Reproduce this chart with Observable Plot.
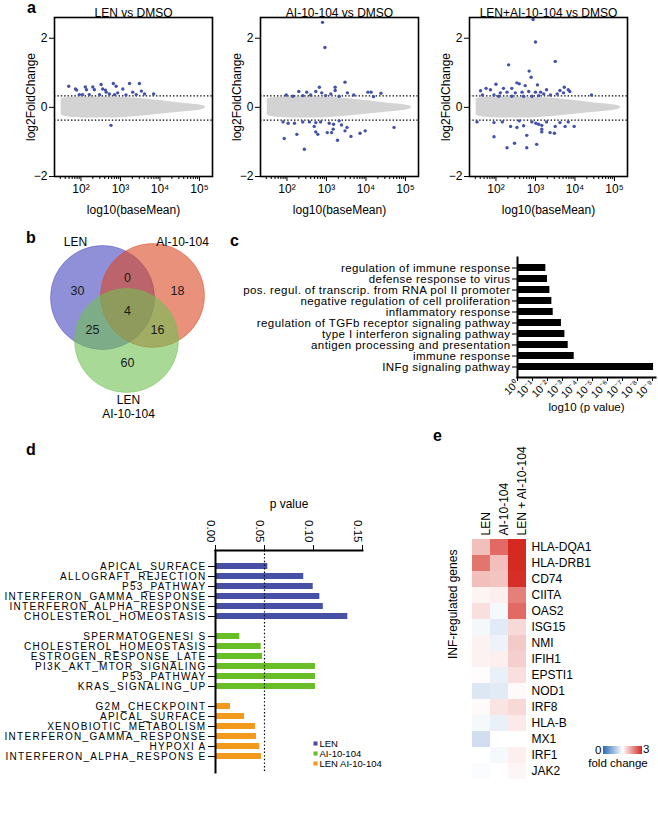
<!DOCTYPE html>
<html><head><meta charset="utf-8">
<script src="https://cdn.jsdelivr.net/npm/d3@7"></script>
<script src="https://cdn.jsdelivr.net/npm/@observablehq/plot@0.6"></script>
<style>
body{margin:0;background:#fff;}
#fig{position:relative;width:658px;height:817px;overflow:hidden;font-family:"Liberation Sans",Arial,Helvetica,sans-serif;color:#000;background:#fff;}
.abs{position:absolute;}
.letter{position:absolute;font-weight:bold;font-size:16px;line-height:1;}
.abs svg{display:block;}
.pd g[aria-label="y-axis tick label"] text{letter-spacing:1.3px;}
.pc g[aria-label="y-axis tick label"] text{letter-spacing:0.4px;}
</style></head><body><div id="fig"></div>
<script>
// ---------- Panel a data (log10 baseMean, log2FoldChange of significant genes) ----------
const maTitles = ["LEN vs DMSO", "AI-10-104 vs DMSO", "LEN+AI-10-104 vs DMSO"];
const thresholds = [0.33, -0.37];
const xMajorTicks = [1e2, 1e3, 1e4, 1e5];
const yTicksA = [-2, 0, 2];
// envelope of the grey cloud of non-significant genes
const cloudLogMean = [1.5, 1.8, 2.5, 3.0, 3.5, 4.0, 4.5, 5.0, 5.15];
const cloudUpper   = [0.25, 0.29, 0.30, 0.29, 0.26, 0.20, 0.13, 0.07, 0.02];
const cloudLower   = [-0.23, -0.29, -0.31, -0.30, -0.26, -0.20, -0.14, -0.08, -0.02];
const lenLog = [1.69,1.86,1.89,1.96,2.04,2.11,2.14,2.21,2.30,2.34,2.47,2.51,2.55,2.62,2.64,2.72,2.76,2.82,2.85,2.89,2.93,3.06,3.14,3.23,3.31,3.40,3.48,3.53,3.61,3.84];
const lenLfc = [0.61,0.53,0.50,0.37,0.37,0.59,0.51,0.37,0.59,0.51,0.37,0.66,0.53,0.50,0.44,0.39,-0.52,0.69,0.37,0.61,0.42,0.53,0.36,0.69,0.44,0.37,0.69,0.47,0.39,0.39];
const aiLog = [2.90,2.96,3.47,2.82,3.22,3.22,2.30,2.50,2.73,2.88,3.11,3.53,3.69,4.05,4.13,4.38,1.98,2.15,2.40,2.60,2.98,3.32,4.19,1.90,2.03,2.19,2.40,2.57,2.73,2.85,3.07,3.18,2.69,2.73,2.78,3.02,3.17,3.13,3.38,3.47,3.52,3.62,3.32,3.85,3.98,3.28,2.25,1.93,2.44,4.71];
const aiLfc = [2.46,1.73,0.73,0.58,0.58,0.49,0.46,0.44,0.46,0.42,0.39,0.42,0.36,0.44,0.44,0.41,0.36,0.32,0.34,0.36,0.34,0.32,0.31,-0.42,-0.46,-0.46,-0.42,-0.42,-0.44,-0.42,-0.46,-0.49,-0.55,-0.71,-0.78,-0.73,-0.63,-0.73,-0.51,-0.68,-0.58,-0.84,-0.39,-0.75,-0.68,-0.95,-0.78,-0.90,-1.21,-0.58];
const comboLog = [2.94,3.0,2.32,3.50,2.84,2.89,2.53,2.59,2.0,1.75,1.86,1.61,2.19,2.40,2.74,3.05,3.28,3.73,3.62,3.83,3.87,4.42,1.66,1.95,2.11,2.28,2.49,2.66,2.83,3.0,3.13,3.21,3.38,3.55,3.71,2.07,2.40,2.70,2.91,3.08,1.52,1.95,2.16,2.37,2.59,2.53,2.70,2.91,3.01,3.08,3.16,3.16,3.16,3.28,3.50,3.62,3.83,3.75,3.98,3.37,3.48,2.78,1.95,2.47,2.28,2.78,3.03];
const comboLfc = [2.54,1.89,1.23,1.33,1.05,0.87,0.71,0.68,0.67,0.55,0.51,0.48,0.55,0.55,0.63,0.65,0.51,0.58,0.49,0.51,0.46,0.36,0.36,0.36,0.42,0.44,0.42,0.44,0.46,0.44,0.44,0.39,0.36,0.39,0.42,0.32,0.32,0.32,0.32,0.34,-0.42,-0.44,-0.42,-0.55,-0.39,-0.58,-0.53,-0.42,-0.46,-0.49,-0.52,-0.63,-0.71,-0.42,-0.55,-0.44,-0.42,-0.55,-0.55,-0.73,-0.75,-0.81,-0.85,-1.04,-1.17,-1.17,-1.07];

// ---------- Panel b data ----------
const vennSets = ["LEN", "AI-10-104", "LEN AI-10-104"];
const vennColors = ["#4646c0", "#db4723", "#70bf52"];
// LEN only, LEN∩AI, AI only, all three, LEN∩combo, AI∩combo, combo only
const vennCounts = [30, 0, 18, 4, 25, 16, 60];

// ---------- Panel c data ----------
const goTerms = ["regulation of immune response","defense response to virus","pos. regul. of transcrip. from RNA pol II promoter","negative regulation of cell proliferation","inflammatory response","regulation of TGFb receptor signaling pathway","type I interferon signaling pathway","antigen processing and presentation","immune response","INFg signaling pathway"];
const goNegLog10P = [1.89, 2.0, 2.16, 2.29, 2.38, 2.93, 3.16, 3.38, 3.78, 9.07];
const goTicks = [0,1,2,3,4,5,6,7,8,9];

// ---------- Panel d data ----------
const hallGroups = ["LEN", "AI-10-104", "LEN AI-10-104"];
const hallColors = ["#4651a6", "#69be28", "#f39a1e"];
const lenTerms = ["APICAL_SURFACE","ALLOGRAFT_REJECTION","P53_PATHWAY","INTERFERON_GAMMA_RESPONSE","INTERFERON_ALPHA_RESPONSE","CHOLESTEROL_HOMEOSTASIS"];
const lenP = [0.0534, 0.090, 0.0997, 0.1065, 0.110, 0.135];
const aiTerms = ["SPERMATOGENESI S","CHOLESTEROL_HOMEOSTASIS","ESTROGEN_RESPONSE_LATE","PI3K_AKT_MTOR_SIGNALING","P53_PATHWAY","KRAS_SIGNALING_UP"];
const aiP = [0.0248, 0.0466, 0.048, 0.102, 0.102, 0.102];
const comboTerms = ["G2M_CHECKPOINT","APICAL_SURFACE","XENOBIOTIC_METABOLISM","INTERFERON_GAMMA_RESPONSE","HYPOXI A","INTERFERON_ALPHA_RESPONS E"];
const comboP = [0.0153, 0.0296, 0.0408, 0.0418, 0.0452, 0.0469];
const pTicks = [0, 0.05, 0.10, 0.15];
const pCutoff = [0.05];

// ---------- Panel e data ----------
const genes = ["HLA-DQA1","HLA-DRB1","CD74","CIITA","OAS2","ISG15","NMI","IFIH1","EPSTI1","NOD1","IRF8","HLA-B","MX1","IRF1","JAK2"];
const conditions = ["LEN", "AI-10-104", "LEN + AI-10-104"];
const fcLEN   = [1.6, 2.3, 1.6, 1.1, 1.3, 0.95, 1.12, 1.12, 1.03, 0.84, 1.05, 0.96, 0.78, 1.0, 0.98];
const fcAI    = [2.4, 1.6, 1.55, 1.15, 0.96, 0.86, 0.92, 1.15, 0.9, 0.86, 1.25, 0.9, 1.0, 0.96, 1.0];
const fcCombo = [3.0, 3.0, 2.95, 2.2, 2.4, 1.35, 1.5, 1.45, 1.3, 1.05, 1.35, 1.2, 1.0, 1.15, 1.08];
const fcLegendTicks = [0, 3];

// ================= drawing =================
const FONT = '"Liberation Sans", Arial, Helvetica, sans-serif';
const fig = document.getElementById("fig");
const sup = {"0":"⁰","1":"¹","2":"²","3":"³","4":"⁴","5":"⁵","6":"⁶","7":"⁷","8":"⁸","9":"⁹","-":"⁻"};
const pow10 = e => "10" + String(e).split("").map(c => sup[c]).join("");
function place(node, left, top) {
  const d = document.createElement("div");
  d.className = "abs"; d.style.left = left + "px"; d.style.top = top + "px";
  d.appendChild(node); fig.appendChild(d); return d;
}
function letter(t, left, top) {
  const d = document.createElement("div");
  d.className = "letter"; d.textContent = t; d.style.left = left + "px"; d.style.top = top + "px";
  fig.appendChild(d);
}
const baseStyle = {fontFamily: FONT, fontSize: "12px", background: "transparent", overflow: "visible", color: "#000"};

// ---- panel a ----
const maSeries = [[lenLog, lenLfc], [aiLog, aiLfc], [comboLog, comboLfc]];
const maFrameLeft = [54, 260, 469];
const minorTicks = xMajorTicks.flatMap(t => [2,3,4,5,6,7,8,9].map(k => k * t / 10)).filter(v => v >= 30);
const cloud = cloudLogMean.map((m, i) => ({m: 10 ** m, lo: cloudLower[i], hi: cloudUpper[i]}));
maSeries.forEach(([lg, lf], j) => {
  const mL = 50, mR = 6, mT = 17, mB = 42, w = 158, h = 159;
  const pts = lg.map((m, i) => ({m: 10 ** m, v: lf[i]}));
  const p = Plot.plot({
    width: mL + w + mR, height: mT + h + mB,
    marginLeft: mL, marginRight: mR, marginTop: mT, marginBottom: mB,
    style: baseStyle,
    x: {type: "log", domain: [10 ** 1.33, 10 ** 5.33]},
    y: {domain: [-2, 2.6]},
    marks: [
      Plot.areaY(cloud, {x: "m", y1: "lo", y2: "hi", fill: "#d3d3d3", curve: "natural"}),
      Plot.ruleY(thresholds, {stroke: "#000", strokeDasharray: "1.4,2", strokeWidth: 1.3}),
      Plot.dot(pts, {x: "m", y: "v", r: 1.7, fill: "#4351a8"}),
      Plot.frame({stroke: "#000", strokeWidth: 1.6}),
      Plot.axisX(minorTicks, {tickSize: 3, tickFormat: () => "", label: null}),
      Plot.axisX(xMajorTicks, {tickSize: 5, tickPadding: 3, fontSize: 12, tickFormat: d => pow10(Math.round(Math.log10(d))), label: "log10(baseMean)", labelAnchor: "center", labelArrow: "none", labelOffset: 37}),
      Plot.axisY(yTicksA, {tickSize: 5, tickPadding: 2, fontSize: 12, label: "log2FoldChange", labelAnchor: "center", labelArrow: "none", labelOffset: 28}),
      Plot.text([maTitles[j]], {frameAnchor: "top", dy: -9, fontSize: 12})
    ]
  });
  place(p, maFrameLeft[j] - mL, 0);
});

// ---- panel b (Venn) ----
const vennCircles = [ {x: -25, y: -23}, {x: 25, y: -25}, {x: -1, y: 20} ];
const vennCountPos = [ {x: -50, y: -30}, {x: 0, y: -43}, {x: 50, y: -30}, {x: 0, y: -10}, {x: -35, y: 9}, {x: 30, y: 9}, {x: 0, y: 42} ];
const vennLabelPos = [ {x: -52, y: -78, t: vennSets[0]}, {x: 55, y: -78, t: vennSets[1]}, {x: 1, y: 80, t: "LEN"}, {x: 1, y: 94, t: "AI-10-104"} ];
const venn = Plot.plot({
  width: 230, height: 210, margin: 0,
  style: baseStyle,
  x: {domain: [-115, 115], axis: null},
  y: {domain: [110, -100], axis: null},
  color: {domain: vennSets, range: vennColors},
  marks: [
    Plot.dot(vennCircles.map((c, i) => ({...c, s: vennSets[i]})), {x: "x", y: "y", r: 52, fill: "s", fillOpacity: 0.6, stroke: "s", strokeOpacity: 0.45, strokeWidth: 1}),
    Plot.text(vennCountPos.map((c, i) => ({...c, n: vennCounts[i]})), {x: "x", y: "y", text: "n", fontSize: 12.5, fill: "#1a1a1a"}),
    Plot.text(vennLabelPos, {x: "x", y: "y", text: "t", fontSize: 12})
  ]
});
place(venn, 12, 220);

// ---- panel c ----
const goRows = goTerms.map((t, i) => ({term: t, v: goNegLog10P[i]}));
const pc = Plot.plot({
  width: 443, height: 182, marginLeft: 302, marginRight: 3, marginTop: 17, marginBottom: 45,
  className: "pc",
  style: baseStyle,
  x: {domain: [0, 9.2], axis: null},
  y: {domain: goTerms, padding: 0.33, axis: null},
  marks: [
    Plot.barX(goRows, {x: "v", y: "term", fill: "#000"}),
    Plot.axisY({tickSize: 5, tickPadding: 2, fontSize: 11.5, label: null}),
    Plot.frame({anchor: "left", stroke: "#000", strokeWidth: 2}),
    Plot.frame({anchor: "bottom", stroke: "#000", strokeWidth: 2}),
    Plot.axisX(goTicks, {tickSize: 4, tickFormat: () => "", label: null}),
    Plot.text(goTicks, {x: d => d, frameAnchor: "bottom", dy: 7, dx: 2, rotate: -45, textAnchor: "end", text: d => pow10(d === 0 ? 0 : -d), fontSize: 10.5}),
    Plot.text(["log10 (p value)"], {frameAnchor: "bottom", dy: 33, fontSize: 11.5})
  ]
});
place(pc, 215, 240);

// ---- panel d ----
const dRows = [
  ...lenTerms.map((t, i) => ({key: "LEN|" + t, p: lenP[i], g: hallGroups[0]})),
  ...aiTerms.map((t, i) => ({key: "AI|" + t, p: aiP[i], g: hallGroups[1]})),
  ...comboTerms.map((t, i) => ({key: "COMBO|" + t, p: comboP[i], g: hallGroups[2]}))
];
const dDomain = [...lenTerms.map(t => "LEN|" + t), "gap1", ...aiTerms.map(t => "AI|" + t), "gap2", ...comboTerms.map(t => "COMBO|" + t)];
const pd = Plot.plot({
  width: 370, height: 297, marginLeft: 215, marginRight: 8, marginTop: 70, marginBottom: 5,
  className: "pd",
  style: baseStyle,
  x: {domain: [0, 0.15], axis: null},
  y: {domain: dDomain, padding: 0.38, axis: null},
  color: {domain: hallGroups, range: hallColors},
  marks: [
    Plot.barX(dRows, {x: "p", y: "key", fill: "g"}),
    Plot.ruleX(pCutoff, {stroke: "#000", strokeDasharray: "1.4,2.2", strokeWidth: 1.2}),
    Plot.frame({anchor: "left", stroke: "#000", strokeWidth: 2}),
    Plot.frame({anchor: "top", stroke: "#000", strokeWidth: 2}),
    Plot.axisY(dRows.map(d => d.key), {tickSize: 7, tickPadding: 2, fontSize: 10, tickFormat: k => k.split("|")[1], label: null}),
    Plot.axisX(pTicks, {anchor: "top", tickSize: 6, tickFormat: () => "", label: null}),
    Plot.text(pTicks, {x: d => d, frameAnchor: "top", dy: -8, rotate: 90, textAnchor: "end", text: d => d.toFixed(2), fontSize: 11.5}),
    Plot.text(["p value"], {frameAnchor: "top", dy: -51, fontSize: 12})
  ]
});
place(pd, 0, 480);

const legD = Plot.plot({
  width: 110, height: 31, margin: 0, marginLeft: 4,
  style: baseStyle,
  x: {axis: null}, y: {domain: hallGroups, axis: null},
  color: {domain: hallGroups, range: hallColors},
  marks: [
    Plot.dot(hallGroups, {y: d => d, frameAnchor: "left", symbol: "square", r: 2.3, fill: d => d}),
    Plot.text(hallGroups, {y: d => d, frameAnchor: "left", dx: 4, textAnchor: "start", fontSize: 9.5})
  ]
});
place(legD, 311, 737);

// ---- panel e ----
const cells = genes.flatMap((g, i) => [
  {gene: g, cond: conditions[0], fc: fcLEN[i]},
  {gene: g, cond: conditions[1], fc: fcAI[i]},
  {gene: g, cond: conditions[2], fc: fcCombo[i]}
]);
const pe = Plot.plot({
  width: 238, height: 401, marginLeft: 51, marginRight: 131, marginTop: 158, marginBottom: 2,
  style: baseStyle,
  x: {domain: conditions, padding: 0, axis: null},
  y: {domain: genes, padding: 0, axis: null},
  color: {type: "linear", domain: [0, 1, 3], range: ["#2a6bb4", "#ffffff", "#d42a22"], interpolate: "rgb", clamp: true},
  marks: [
    Plot.cell(cells, {x: "cond", y: "gene", fill: "fc"}),
    Plot.axisY({anchor: "right", tickSize: 0, tickPadding: 4, fontSize: 12, label: null}),
    Plot.text(conditions, {x: d => d, frameAnchor: "top", dy: -3, rotate: -90, textAnchor: "start", fontSize: 12}),
    Plot.text(["INF-regulated genes"], {frameAnchor: "left", dx: -18, rotate: -90, fontSize: 12})
  ]
});
place(pe, 420, 380);

// heatmap legend (gradient sampled from the Plot colour scale)
const cs = pe.scale("color");
const grad = document.createElement("div");
grad.style.cssText = `width:39px;height:8px;background:linear-gradient(to right, ${cs.apply(0)} 0%, ${cs.apply(1)} 50%, ${cs.apply(3)} 100%);`;
place(grad, 603, 746);
const t0 = document.createElement("div"); t0.textContent = fcLegendTicks[0]; t0.style.cssText = "font-size:11.5px;line-height:1;";
place(t0, 595, 745);
const t3 = document.createElement("div"); t3.textContent = fcLegendTicks[1]; t3.style.cssText = "font-size:11.5px;line-height:1;";
place(t3, 643, 744);
const tf = document.createElement("div"); tf.textContent = "fold change"; tf.style.cssText = "font-size:11.5px;line-height:1;width:62px;text-align:center;";
place(tf, 587, 758);

// panel letters
letter("a", 27, 0);
letter("b", 26, 230);
letter("c", 230, 233);
letter("d", 26, 442);
letter("e", 433, 428);
</script></body></html>
